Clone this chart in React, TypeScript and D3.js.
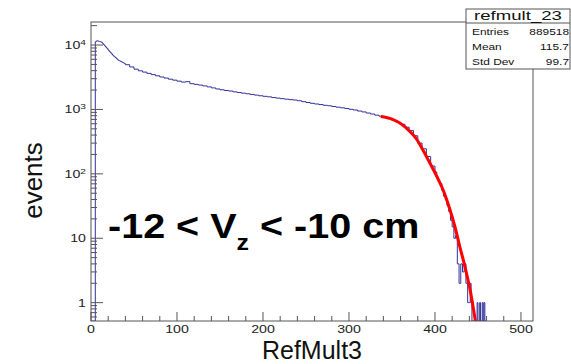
import React from "react";
import * as d3 from "d3";

// 1-unit bins, 0..40
const headCounts = [
  0, 0, 0, 0, 0, 11220, 11530, 11610, 11530, 11430,
  11350, 11220, 11090, 10720, 10350, 10000, 9660, 9330, 9020, 8710,
  8360, 8040, 7760, 7500, 7240, 7000, 6790, 6610, 6430, 6240,
  6050, 5890, 5780, 5690, 5600, 5510, 5420, 5330, 5250, 5160,
];
// 5-unit bins, 40..400
const bodyCounts = [
  4950, 4570,
  4220, 3980, 3800, 3630, 3470, 3330, 3190, 3070, 2950, 2850,
  2750, 2660, 2700, 2510, 2450, 2390, 2320, 2240, 2160, 2080,
  2020, 1970, 1930, 1875, 1830, 1790, 1750, 1710, 1670, 1630,
  1600, 1570, 1530, 1500, 1470, 1445, 1420, 1400, 1365, 1320,
  1280, 1245, 1215, 1190, 1160, 1140, 1110, 1085, 1060, 1035,
  1005, 980, 945, 915, 880, 850, 815, 785, 750, 715,
  675, 630, 590, 530, 470, 390, 300, 245, 186, 132,
];
// 2-unit bins, 400..440
const tailCounts = [107, 89, 76, 71, 55, 45, 40, 32, 26, 19, 15, 10, 11, 4, 2, 4, 3, 4, 2, 1];
// 1-unit bins, 440..460
const edgeCounts = [1, 2, 1, 0, 0, 0, 0, 0, 0, 1, 0, 0, 1, 0, 0, 1, 0, 1, 0, 0];

const fitX = [337, 350, 360, 369, 378, 386, 392, 398, 404, 410, 417, 423, 429, 435, 441, 448];
const fitY = [776, 708, 603, 479, 355, 234, 166, 117, 81, 54, 29, 15.5, 7.3, 3.56, 1.55, 0.43];

const xTicks = [0, 100, 200, 300, 400, 500];
const yTicks = [1, 10, 100, 1000, 10000];
const yTickLabels = [["1", ""], ["10", ""], ["10", "2"], ["10", "3"], ["10", "4"]];

const statsTitle = "refmult_23";
const statsNames = ["Entries", "Mean", "Std Dev"];
const statsValues = ["889518", "115.7", "99.7"];

const FONT = "'Liberation Sans', Arial, Helvetica, sans-serif";

export default function App() {
  const W = 571, H = 364;
  const L = 91, R = 533, T = 22, B = 321;
  const x = d3.scaleLinear().domain([0, 514]).range([L, R]);
  const y = d3.scaleLog().domain([0.519, 22790]).range([B, T]);
  const yv = (c: number) => (c > 0 ? y(c) : B);

  const bins: [number, number][] = [];
  headCounts.forEach((c, i) => bins.push([i, c]));
  bodyCounts.forEach((c, i) => bins.push([40 + i * 5, c]));
  tailCounts.forEach((c, i) => bins.push([400 + i * 2, c]));
  edgeCounts.forEach((c, i) => bins.push([440 + i, c]));
  bins.push([460, 0]);

  const histLine = d3
    .line<[number, number]>()
    .x((d) => x(d[0]))
    .y((d) => yv(d[1]))
    .curve(d3.curveStepAfter);

  const fitPts: [number, number][] = fitX.map((v, i) => [v, fitY[i]]);
  const fitLine = d3
    .line<[number, number]>()
    .x((d) => x(d[0]))
    .y((d) => y(d[1]))
    .curve(d3.curveMonotoneX);

  const xMinor = d3.range(0, 514, 20).filter((v) => v % 100 !== 0);
  const yMinor: number[] = [];
  for (let e = -1; e <= 4; e++) {
    for (let m = 2; m <= 9; m++) {
      const v = m * Math.pow(10, e);
      if (v > 0.519 && v < 22790) yMinor.push(v);
    }
  }

  const frame = "#555";

  return (
    <svg width={W} height={H} style={{ position: "absolute", left: 0, top: 0, background: "#fff" }} fontFamily={FONT}>
      <defs>
        <clipPath id="plot">
          <rect x={L} y={T} width={R - L} height={B - T} />
        </clipPath>
      </defs>
      <rect x={0} y={0} width={W} height={H} fill="#fff" />

      <path d={histLine(bins) || ""} fill="none" stroke="#333399" strokeWidth={1} clipPath="url(#plot)" />
      <path d={fitLine(fitPts) || ""} fill="none" stroke="#ff0000" strokeWidth={3} clipPath="url(#plot)" />

      <rect x={L} y={T} width={R - L} height={B - T} fill="none" stroke={frame} strokeWidth={1} />

      {xTicks.map((v) => (
        <g key={"xt" + v}>
          <line x1={x(v)} x2={x(v)} y1={B} y2={B - 9} stroke={frame} />
          <text transform={`translate(${x(v)},333) scale(1.35,1)`} textAnchor="middle" fontSize={10.5} fill="#222">
            {v}
          </text>
        </g>
      ))}
      {xMinor.map((v) => (
        <line key={"xm" + v} x1={x(v)} x2={x(v)} y1={B} y2={B - 5} stroke={frame} />
      ))}

      {yTicks.map((v, i) => (
        <g key={"yt" + v}>
          <line x1={L} x2={L + 12} y1={y(v)} y2={y(v)} stroke={frame} />
          <text transform={`translate(${86},${y(v) + 4}) scale(1.35,1)`} textAnchor="end" fontSize={10.5} fill="#222">
            {yTickLabels[i][0]}
            {yTickLabels[i][1] ? (
              <tspan fontSize={7.5} dy={-4}>
                {yTickLabels[i][1]}
              </tspan>
            ) : null}
          </text>
        </g>
      ))}
      {yMinor.map((v) => (
        <line key={"ym" + v} x1={L} x2={L + 6} y1={y(v)} y2={y(v)} stroke={frame} />
      ))}

      <text x={312} y={359} textAnchor="middle" fontSize={25} fill="#111">
        RefMult3
      </text>
      <text transform={`translate(42,180.5) rotate(-90)`} textAnchor="middle" fontSize={26} fill="#111">
        events
      </text>

      <text transform="translate(108,238) scale(1.13,1)" fontSize={35} fontWeight="bold" fill="#000">
        -12 &lt; V
        <tspan fontSize={22} dy={12}>
          z
        </tspan>
        <tspan dy={-12}> &lt; -10 cm</tspan>
      </text>

      <rect x={466} y={9} width={104} height={60} fill="#fff" stroke={frame} strokeWidth={1} />
      <line x1={466} x2={570} y1={23} y2={23} stroke={frame} />
      <text transform={`translate(518,20) scale(1.43,1)`} textAnchor="middle" fontSize={13} fill="#111">
        {statsTitle}
      </text>
      {statsNames.map((n, i) => (
        <g key={n}>
          <text transform={`translate(472,${35 + i * 15}) scale(1.4,1)`} fontSize={8.5} fill="#111">
            {n}
          </text>
          <text transform={`translate(569,${35 + i * 15}) scale(1.4,1)`} textAnchor="end" fontSize={8.5} fill="#111">
            {statsValues[i]}
          </text>
        </g>
      ))}
    </svg>
  );
}
